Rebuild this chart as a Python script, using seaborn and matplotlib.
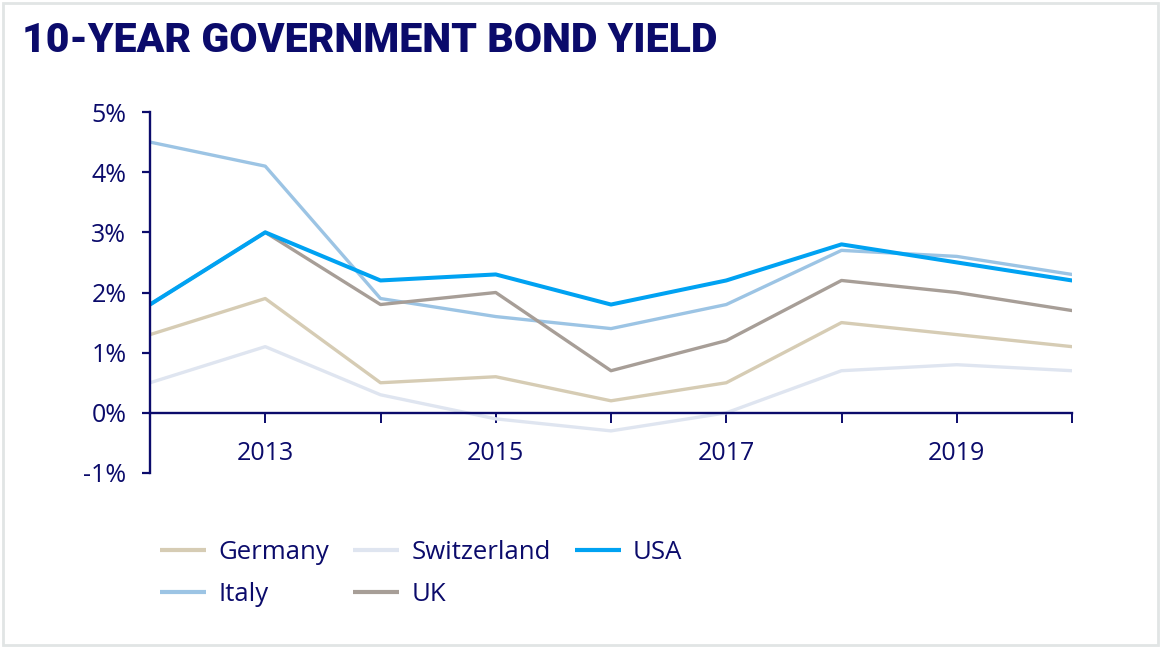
import matplotlib
matplotlib.use("Agg")
import matplotlib.pyplot as plt
from matplotlib.lines import Line2D
from matplotlib.patches import Rectangle
from matplotlib.ticker import FuncFormatter
import seaborn as sns
import pandas as pd

years = [2012, 2013, 2014, 2015, 2016, 2017, 2018, 2019, 2020]
germany = [1.3, 1.9, 0.5, 0.6, 0.2, 0.5, 1.5, 1.3, 1.1]
switzerland = [0.5, 1.1, 0.3, -0.1, -0.3, 0.0, 0.7, 0.8, 0.7]
usa = [1.8, 3.0, 2.2, 2.3, 1.8, 2.2, 2.8, 2.5, 2.2]
italy = [4.5, 4.1, 1.9, 1.6, 1.4, 1.8, 2.7, 2.6, 2.3]
uk = [1.8, 3.0, 1.8, 2.0, 0.7, 1.2, 2.2, 2.0, 1.7]
x_labels = ["", "2013", "", "2015", "", "2017", "", "2019", ""]
title = "10-YEAR GOVERNMENT BOND YIELD"

series = {"Germany": germany, "Switzerland": switzerland, "USA": usa,
          "Italy": italy, "UK": uk}
colors = {"Germany": "#d6ccb4", "Switzerland": "#dfe5f0", "USA": "#00a2f2",
          "Italy": "#9cc4e4", "UK": "#a79e97"}
draw_order = ["Switzerland", "Germany", "Italy", "UK", "USA"]
legend_order = ["Germany", "Italy", "Switzerland", "UK", "USA"]

df = pd.DataFrame([
    {"year": y, "country": c, "value": v}
    for c, vals in series.items() for y, v in zip(years, vals)
])

navy = "#0b0b6b"
sns.set_theme(style="white")
plt.rcParams["font.family"] = ["Open Sans", "DejaVu Sans"]

fig = plt.figure(figsize=(11.61, 6.48), dpi=100)
ax = fig.add_axes([150 / 1161, 1 - 473 / 648, 922 / 1161, 361 / 648])

sns.lineplot(data=df, x="year", y="value", hue="country", hue_order=draw_order,
             palette=colors, linewidth=2.4, ax=ax, legend=False)
ax.get_lines()[-1].set_linewidth(2.9)

ax.set_xlim(2012, 2020)
ax.set_ylim(-1, 5)
ax.set_yticks(range(-1, 6))
ax.yaxis.set_major_formatter(FuncFormatter(lambda v, p: f"{int(v)}%"))
ax.set_xticks(years)
ax.set_xticklabels(x_labels)
ax.set_xlabel("")
ax.set_ylabel("")

for s in ["top", "right"]:
    ax.spines[s].set_visible(False)
ax.spines["bottom"].set_position(("data", 0))
for s in ["left", "bottom"]:
    ax.spines[s].set_color(navy)
    ax.spines[s].set_linewidth(1.7)
ax.tick_params(axis="y", which="major", left=True, length=6, width=1.6,
               color=navy, labelcolor=navy, labelsize=18, pad=11)
ax.tick_params(axis="x", which="major", bottom=True, length=7.5, width=1.4,
               color=navy, labelcolor=navy, labelsize=18, pad=13)

handles = [Line2D([], [], color=colors[c], linewidth=3, solid_capstyle="butt")
           for c in legend_order]
fig.legend(handles, legend_order, ncol=3, loc="upper left",
           bbox_to_anchor=(160 / 1161, 1 - 540 / 648), frameon=False,
           borderaxespad=0, borderpad=0,
           fontsize=18.5, labelcolor=navy, handlelength=1.8, handletextpad=0.47,
           columnspacing=0.93, labelspacing=0.65)

fig.text(22 / 1161, 1 - 40 / 648, title, fontsize=29.5, fontweight="black",
         color=navy, family=["Roboto", "DejaVu Sans"], va="center", ha="left")

fig.patches.append(Rectangle((0.003, 0.004), 0.994, 0.992, transform=fig.transFigure,
                             fill=False, edgecolor="#e1e5e5", linewidth=2))

fig.savefig("out.png", dpi=100, facecolor="white")
